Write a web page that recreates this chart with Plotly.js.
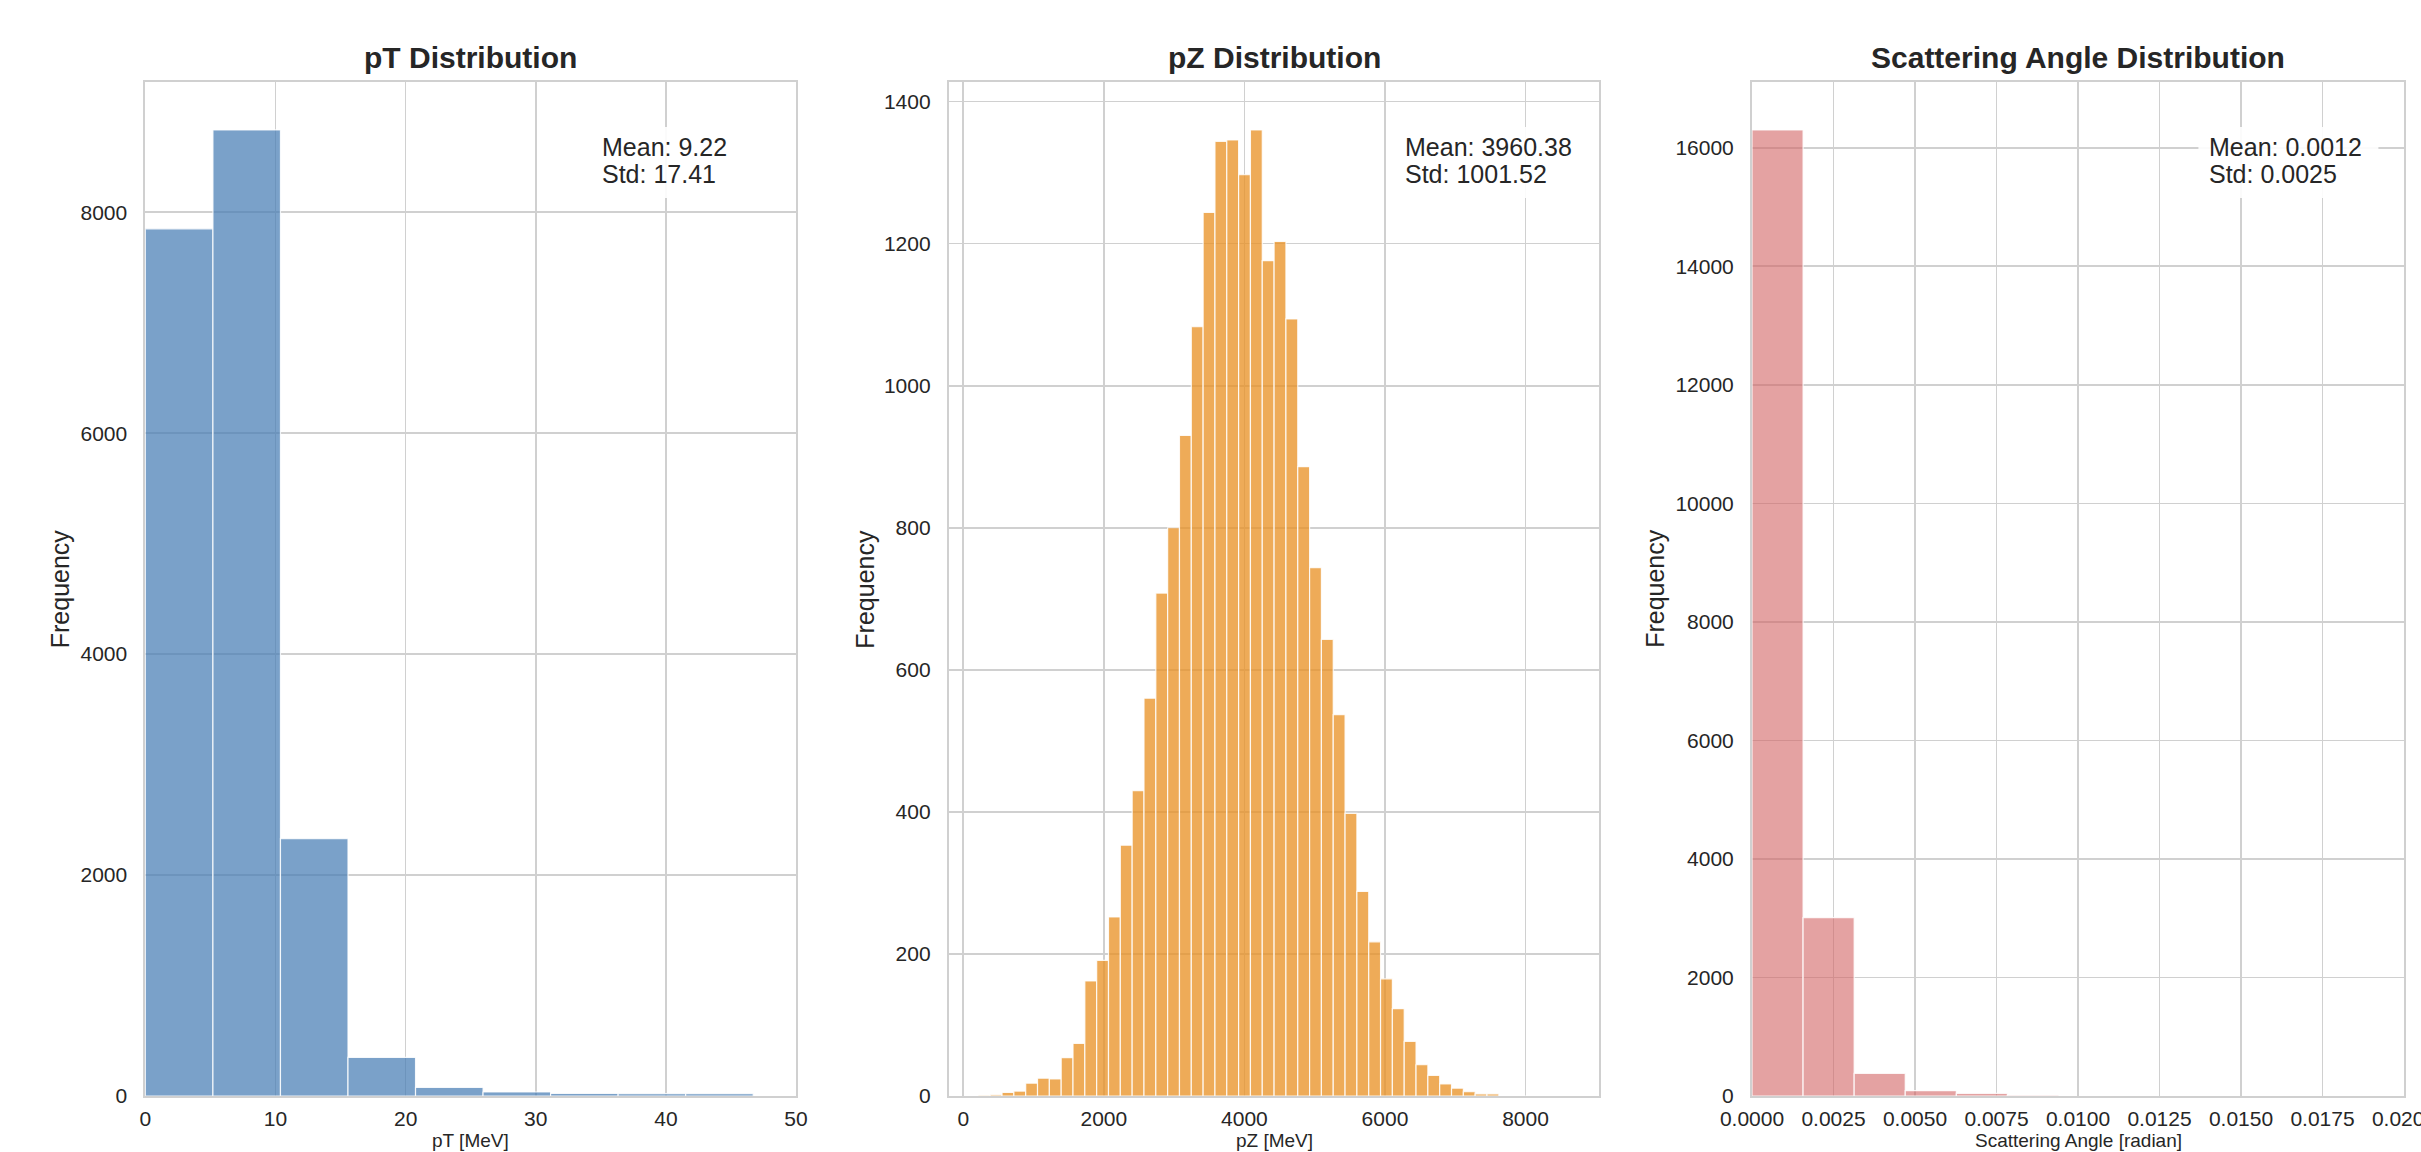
<!DOCTYPE html>
<html>
<head>
<meta charset="utf-8">
<script src="https://cdn.plot.ly/plotly-3.0.1.min.js"></script>
<style>
  html, body { margin: 0; padding: 0; background: #ffffff; }
  #chart { width: 2421px; height: 1152px; }
</style>
</head>
<body>
<div id="chart"></div>
<script>
// ---------------- data ----------------
// pT histogram
const ptBinStart = 0;
const ptBinWidth = 5.19;
const ptCounts = [7850, 8745, 2330, 349, 78, 36, 23, 22, 22];

// pZ histogram (50 bins)
const pzBinStart = 215;
const pzBinWidth = 168.3;
const pzCounts = [1, 2, 5, 7, 18, 25, 24, 54, 74, 162,
                  191, 252, 353, 430, 560, 708, 800, 930, 1083, 1244,
                  1344, 1346, 1297, 1360, 1176, 1203, 1094, 886, 744, 643,
                  537, 398, 288, 217, 165, 123, 77, 44, 29, 17,
                  11, 6, 3, 3, 0, 0, 0, 0, 0, 0];

// Scattering angle histogram
const saBinStart = 0;
const saBinWidth = 0.001567;
const saCounts = [16299, 3010, 383, 90, 45, 15];

// titles / labels / stats
const panelTitles = ["pT Distribution", "pZ Distribution", "Scattering Angle Distribution"];
const xLabels = ["pT [MeV]", "pZ [MeV]", "Scattering Angle [radian]"];
const yLabel = "Frequency";
const statMeans = ["Mean: 9.22", "Mean: 3960.38", "Mean: 0.0012"];
const statStds = ["Std: 17.41", "Std: 1001.52", "Std: 0.0025"];

// ---------------- helpers ----------------
function centers(start, width, counts) {
  return counts.map((_, i) => start + width * (i + 0.5));
}

const FONT = '"Liberation Sans", Arial, Helvetica, sans-serif';
const TXT = '#262626';
const GRID = '#d0d0d0';

const fills = ['rgba(70,125,180,0.72)', 'rgba(232,145,35,0.76)', 'rgba(210,100,100,0.6)'];

const traces = [
  {type: 'bar', x: centers(ptBinStart, ptBinWidth, ptCounts), y: ptCounts, width: ptBinWidth,
   xaxis: 'x', yaxis: 'y', marker: {color: fills[0], line: {color: 'rgba(255,255,255,0.85)', width: 1.2}},
   hoverinfo: 'x+y', showlegend: false},
  {type: 'bar', x: centers(pzBinStart, pzBinWidth, pzCounts), y: pzCounts, width: pzBinWidth,
   xaxis: 'x2', yaxis: 'y2', marker: {color: fills[1], line: {color: 'rgba(255,255,255,0.85)', width: 1.2}},
   hoverinfo: 'x+y', showlegend: false},
  {type: 'bar', x: centers(saBinStart, saBinWidth, saCounts), y: saCounts, width: saBinWidth,
   xaxis: 'x3', yaxis: 'y3', marker: {color: fills[2], line: {color: 'rgba(255,255,255,0.85)', width: 1.2}},
   hoverinfo: 'x+y', showlegend: false}
];

const W = 2421, H = 1152;
const plotTop = 81.7, plotBottom = 1096;
const plotH = plotBottom - plotTop;
const yDom = [(H - plotBottom) / H, (H - plotTop) / H];
const xPix = [[145.4, 796], [948.8, 1599.4], [1752, 2404]];
const xDoms = xPix.map(p => [p[0] / W, p[1] / W]);

function xAxis(dom, range, dtick, fmt, anchor) {
  return {
    domain: dom, range: range, dtick: dtick, tick0: 0, tickformat: fmt || 'd',
    showgrid: true, gridcolor: GRID, gridwidth: 1.6, zeroline: false,
    showline: true, mirror: true, linecolor: GRID, linewidth: 2,
    ticks: '', ticklabelstandoff: 3, ticklabeloverflow: 'allow', anchor: anchor,
    tickfont: {family: FONT, size: 21, color: TXT}, fixedrange: true
  };
}
function yAxis(range, dtick, anchor) {
  return {
    domain: yDom, range: range, dtick: dtick, tick0: 0, tickformat: 'd',
    showgrid: true, gridcolor: GRID, gridwidth: 1.6, zeroline: false,
    showline: true, mirror: true, linecolor: GRID, linewidth: 2,
    ticks: '', ticklabelstandoff: 12, anchor: anchor,
    tickfont: {family: FONT, size: 21, color: TXT}, fixedrange: true
  };
}

const annotations = [];
const shapes = [];
const refs = [['x', 'y'], ['x2', 'y2'], ['x3', 'y3']];
const yLabelShift = [-86, -84, -97];
const boxTextWidth = [128, 172, 160]; // approx. pixel width of the longest stats line
const line1Y = (plotBottom - 146.7) / plotH;
const line2Y = (plotBottom - 174.5) / plotH;
for (let i = 0; i < 3; i++) {
  const xr = refs[i][0] + ' domain', yr = refs[i][1] + ' domain';
  const pw = xPix[i][1] - xPix[i][0];
  // panel title
  annotations.push({xref: xr, yref: yr, x: 0.5, y: 1, yshift: 24, xanchor: 'center', yanchor: 'middle',
    text: '<b>' + panelTitles[i] + '</b>', showarrow: false,
    font: {family: FONT, size: 30, color: TXT}});
  // x label (kept fully inside the page, just below the tick labels)
  annotations.push({xref: xr, yref: 'paper', x: 0.5, y: 0, xanchor: 'center', yanchor: 'bottom',
    text: xLabels[i], showarrow: false, borderpad: 0, font: {family: FONT, size: 19, color: TXT}});
  // y label
  annotations.push({xref: xr, yref: yr, x: 0, y: 0.5, xshift: yLabelShift[i], xanchor: 'center', yanchor: 'middle',
    textangle: -90, text: yLabel, showarrow: false, font: {family: FONT, size: 25, color: TXT}});
  // stats box background
  shapes.push({type: 'rect', xref: xr, yref: yr, layer: 'above',
    x0: 0.7 - 10 / pw, x1: 0.7 + (boxTextWidth[i] + 10) / pw,
    y0: (plotBottom - 198) / plotH, y1: (plotBottom - 127) / plotH,
    fillcolor: 'rgba(255,255,255,0.9)', line: {width: 0}});
  // stats text
  annotations.push({xref: xr, yref: yr, x: 0.7, y: line1Y, xanchor: 'left', yanchor: 'middle',
    text: statMeans[i], showarrow: false, borderpad: 0, font: {family: FONT, size: 25, color: TXT}});
  annotations.push({xref: xr, yref: yr, x: 0.7, y: line2Y, xanchor: 'left', yanchor: 'middle',
    text: statStds[i], showarrow: false, borderpad: 0, font: {family: FONT, size: 25, color: TXT}});
}

const layout = {
  width: W, height: H,
  margin: {l: 0, r: 0, t: 0, b: 0},
  paper_bgcolor: '#ffffff', plot_bgcolor: '#ffffff',
  bargap: 0,
  font: {family: FONT, color: TXT},
  xaxis: xAxis(xDoms[0], [0, 50], 10, 'd', 'y'),
  yaxis: yAxis([0, 9182], 2000, 'x'),
  xaxis2: xAxis(xDoms[1], [-206, 9051], 2000, 'd', 'y2'),
  yaxis2: yAxis([0, 1428], 200, 'x2'),
  xaxis3: xAxis(xDoms[2], [0, 0.0200001], 0.0025, '.4f', 'y3'),
  yaxis3: yAxis([0, 17114], 2000, 'x3'),
  annotations: annotations,
  shapes: shapes
};

Plotly.newPlot('chart', traces, layout, {displayModeBar: false, staticPlot: true});
</script>
</body>
</html>
